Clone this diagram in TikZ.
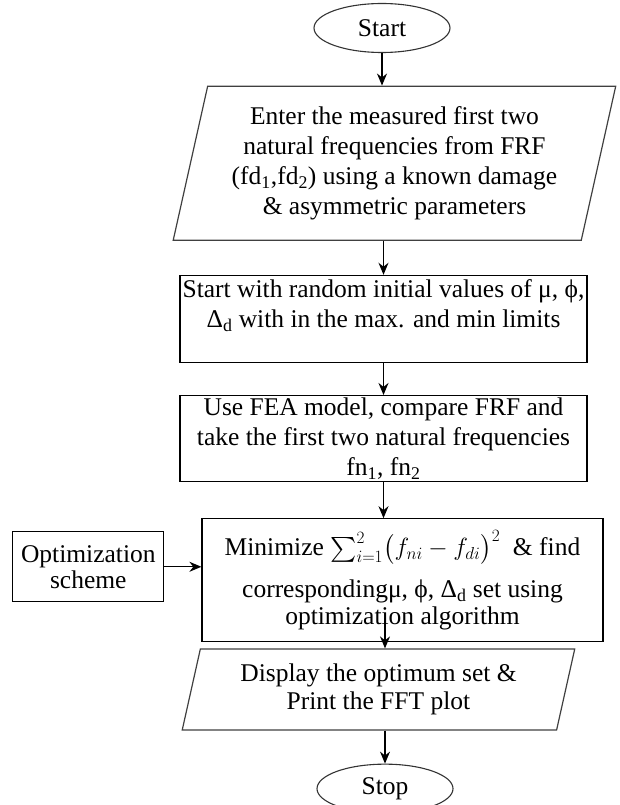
\documentclass[tikz,border=0pt]{standalone}
\usepackage{amsmath}
\usepackage{fontspec}
\setmainfont{Liberation Serif}
\usetikzlibrary{arrows.meta,positioning,shapes.geometric,calc}

\begin{document}
\begin{tikzpicture}[x=1pt, y=1pt, font=\fontsize{25.5}{30}\selectfont, node distance=32pt,
 box/.style={draw,line width=1.2pt,align=center,minimum width=407pt,minimum height=87pt,inner sep=2pt},
 io/.style={draw=black!75,line width=1.2pt,align=center,trapezium,trapezium left angle=75.5,trapezium right angle=104.5,trapezium stretches=true,inner sep=2pt},
 term/.style={draw=black!80,line width=1.1pt,ellipse,minimum width=136pt,minimum height=49pt,inner sep=0pt},
 >={Stealth[length=12pt,width=10pt]}]
\useasboundingbox (0,0) rectangle (620,-805);
\node[term] (start) at (382,-28) {Start};
\node[io,minimum width=445pt,minimum height=154pt,below=32.5pt of start,xshift=12.5pt] (input) {Enter the measured first two\\natural frequencies from FRF\\(fd\textsubscript{1},fd\textsubscript{2}) using a known damage\\\& asymmetric parameters};
\node[box,below=34pt of input,xshift=-11pt] (init) {Start with random initial values of μ, ϕ,\\Δ\textsubscript{d} with in the max. and min limits\\\mbox{}};
\node[box,below=of init,minimum height=86pt] (fea) {Use FEA model, compare FRF and\\take the first two natural frequencies\\fn\textsubscript{1}, fn\textsubscript{2}};
\node[box,below=36pt of fea,xshift=19pt,minimum width=401pt,minimum height=123pt] (min) {Minimize $\sum_{i=1}^{2}\bigl(f_{ni}-f_{di}\bigr)^{2}$\ \ \& find\\[12pt]correspondingμ, ϕ, Δ\textsubscript{d} set using\\[-3pt]optimization algorithm};
\node[box,left=37pt of min,yshift=13.5pt,minimum width=151pt,minimum height=70pt] (opt) {Optimization\\[-4pt]scheme};
\node[io,minimum width=393pt,minimum height=81pt,below=6pt of min,xshift=-24pt] (out) {Display the optimum set \&\\[-2pt]Print the FFT plot};
\node[term,below=33pt of out,xshift=6.5pt] (stop) {Stop};
\foreach \a/\b in {start/input,fea/min}
 \draw[->,line width=1.2pt] (\a.south) -- (\a.south |- \b.north);
\foreach \a/\b in {input/init,init/fea,out/stop}
 \draw[->,line width=1.2pt] (\b.north |- \a.south) -- (\b.north);
\draw[->,line width=1.2pt] (opt.east) -- (opt.east -| min.west);
\draw[->,line width=1.2pt] ($(stop.north |- min.south)+(0,24)$) -- (stop.north |- out.north);
\end{tikzpicture}
\end{document}
